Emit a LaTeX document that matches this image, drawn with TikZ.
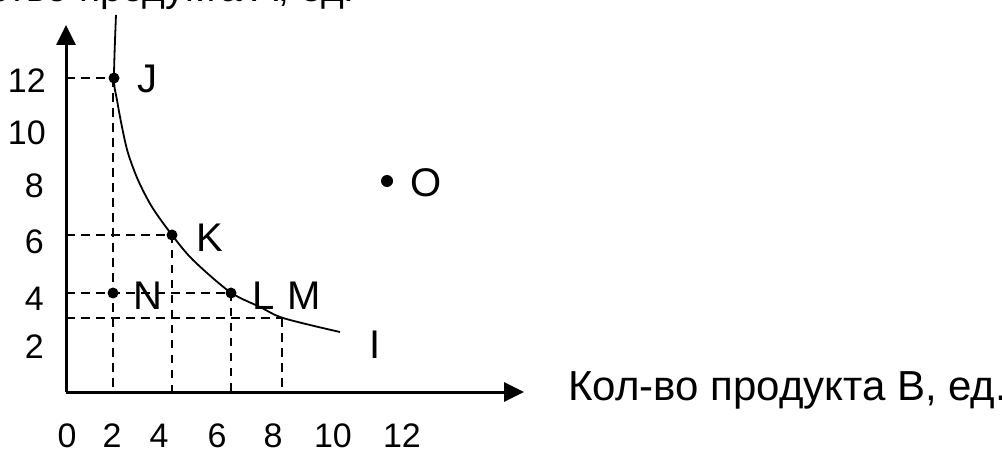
\documentclass[tikz,border=0pt]{standalone}
\usepackage{fontspec}
\setmainfont{Liberation Sans}
\usetikzlibrary{arrows.meta}
\begin{document}
\begin{tikzpicture}[x=1pt,y=-1pt,
  axis/.style={line width=3pt,-{Triangle[length=20pt,width=19pt]}},
  guide/.style={line width=2.4pt,dash pattern=on 9pt off 6pt},
  thinguide/.style={line width=1.7pt,dash pattern=on 8pt off 7pt},
  curve/.style={line width=1.8pt},
  dot/.style={circle,fill=black,inner sep=0pt,minimum size=11pt},
  num/.style={font=\fontsize{34}{40}\selectfont,inner sep=0pt},
  lbl/.style={font=\fontsize{40}{48}\selectfont,inner sep=0pt},
  title/.style={font=\fontsize{42}{50}\selectfont,inner sep=0pt}]
\useasboundingbox (0,0) rectangle (1002,449);
% axes
\coordinate (o) at (66,392);
\coordinate (ytip) at (66,25);
\coordinate (xtip) at (524,392);
\draw[axis] (o) -- (ytip);
\draw[axis] (o) -- (xtip);
% axis titles
\node[title,font=\fontsize{39}{46}\selectfont,anchor=base east] (ytitle) at (355,2) {Количество продукта A, ед.};
\node[title,anchor=base west] (xtitle) at (568,400) {Кол-во продукта B, ед.};
% y tick labels
\node[num,anchor=east] (y12) at (46,81) {12};
\node[num,anchor=east] (y10) at (46,133) {10};
\node[num,anchor=east] (y8) at (44,186) {8};
\node[num,anchor=east] (y6) at (44,242) {6};
\node[num,anchor=east] (y4) at (44,299) {4};
\node[num,anchor=east] (y2) at (44,347) {2};
% x tick labels
\node[num,anchor=base] (x0) at (67,447) {0};
\node[num,anchor=base] (x2) at (112,447) {2};
\node[num,anchor=base] (x4) at (159,447) {4};
\node[num,anchor=base] (x6) at (217,447) {6};
\node[num,anchor=base] (x8) at (273,447) {8};
\node[num,anchor=base] (x10) at (333,447) {10};
\node[num,anchor=base] (x12) at (402,447) {12};
% points
\coordinate (J) at (114,78);
\coordinate (K) at (172,235);
\coordinate (N) at (113,293);
\coordinate (L) at (231,293);
\coordinate (M) at (282,318);
\coordinate (Ov) at (387,181);
% axis feet
\coordinate (yJ) at (66,78);
\coordinate (yK) at (66,235);
\coordinate (yL) at (66,293);
\coordinate (yM) at (66,318);
\coordinate (xJ) at (113,392);
\coordinate (xK) at (172,392);
\coordinate (xL) at (231,392);
\coordinate (xM) at (282,392);
% guides
\draw[guide] (yJ) -- (J);
\draw[guide] (113,78) -- (xJ);
\draw[guide] (yK) -- (K);
\draw[thinguide] (K) -- (xK);
\draw[guide] (yL) -- (L);
\draw[thinguide] (L) -- (xL);
\draw[guide] (yM) -- (M);
\draw[guide] (M) -- (xM);
% indifference curve
\draw[curve] plot[smooth,tension=0.5] coordinates {(116,15) (114,78) (117,100) (122,127) (128,153) (138,180) (152,207) (172,235) (193,260) (230,292) (260,307) (280,317) (310,325) (340,332)};
% dots
\node[dot] (dJ) at (J) {};
\node[dot] (dK) at (K) {};
\node[dot] (dN) at (N) {};
\node[dot] (dL) at (L) {};
\node[dot,minimum size=12pt] (dO) at (Ov) {};
% point labels
\node[lbl] (lJ) at (147,79) {J};
\node[lbl] (lK) at (210,238) {K};
\node[lbl] (lN) at (148,296) {N};
\node[lbl] (lL) at (264,296) {L};
\node[lbl] (lM) at (304,296) {M};
\node[lbl] (lI) at (375,345) {I};
\node[lbl] (lO) at (426,183) {O};
\end{tikzpicture}
\end{document}
